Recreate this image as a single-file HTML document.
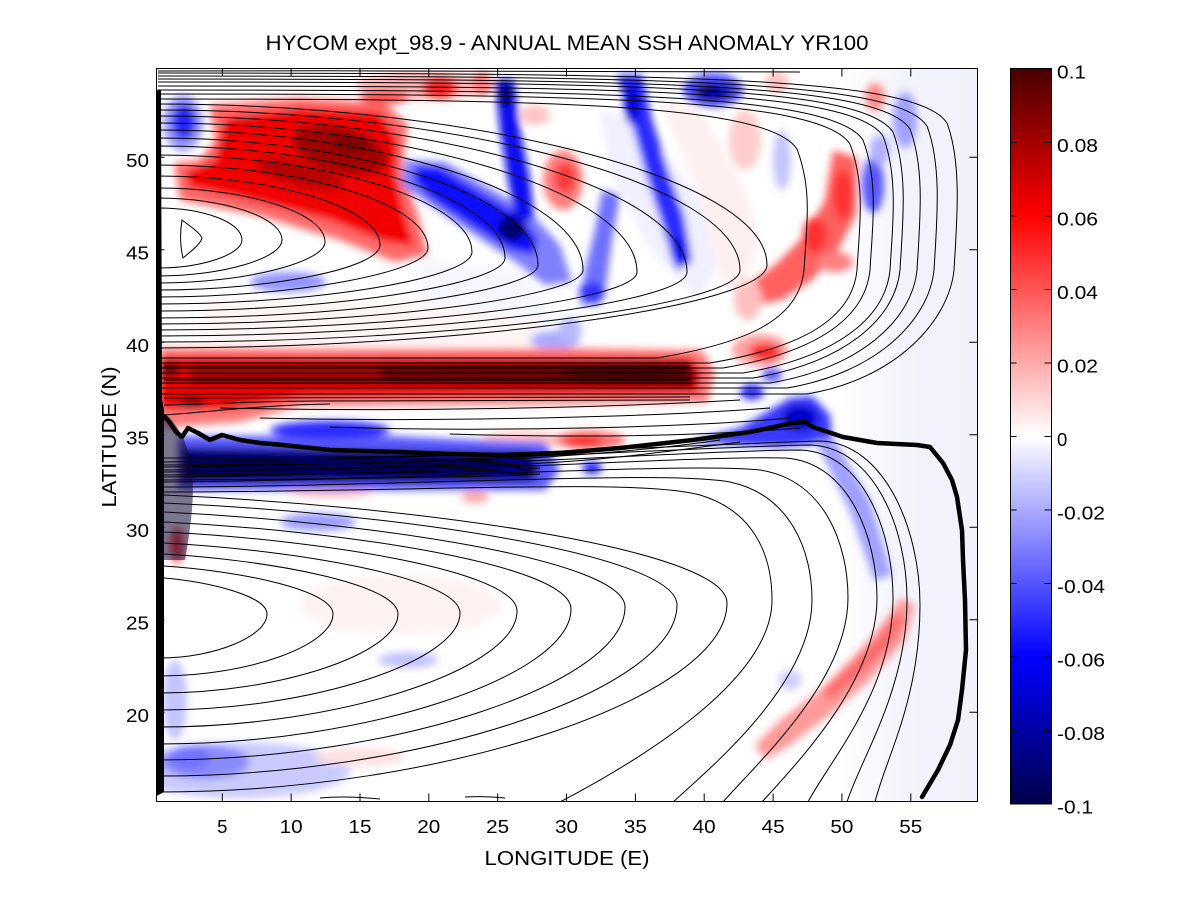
<!DOCTYPE html>
<html><head><meta charset="utf-8"><style>
html,body{margin:0;padding:0;background:#fff;}
svg{display:block;}
text{font-family:"Liberation Sans",Arial,sans-serif;fill:#000;}
</style></head><body>
<svg width="1200" height="901" viewBox="0 0 1200 901" xmlns="http://www.w3.org/2000/svg">
<defs>
<clipPath id="cp"><rect x="156.5" y="68.5" width="821" height="733"/></clipPath>
<filter id="bl" x="-10%" y="-10%" width="120%" height="120%"><feGaussianBlur stdDeviation="4"/></filter>
<linearGradient id="cb" x1="0" y1="0" x2="0" y2="1">
<stop offset="0" stop-color="#480000"/><stop offset="0.1" stop-color="#a40000"/><stop offset="0.2" stop-color="#ff0000"/><stop offset="0.5" stop-color="#ffffff"/><stop offset="0.8" stop-color="#0000ff"/><stop offset="0.9" stop-color="#0000a4"/><stop offset="1" stop-color="#000048"/>
</linearGradient>
<linearGradient id="lav" x1="0" y1="0" x2="1" y2="0">
<stop offset="0" stop-color="#f3f3fc" stop-opacity="0"/><stop offset="0.45" stop-color="#f3f3fc" stop-opacity="1"/><stop offset="1" stop-color="#f1f1fb" stop-opacity="1"/>
</linearGradient>
</defs>

<text x="567" y="50" font-size="21" text-anchor="middle" textLength="603" lengthAdjust="spacingAndGlyphs">HYCOM expt_98.9 - ANNUAL MEAN SSH ANOMALY YR100</text>

<g clip-path="url(#cp)">
<rect x="156" y="68" width="822" height="734" fill="#fff"/>
<rect x="840" y="68" width="140" height="734" fill="url(#lav)"/>
<g filter="url(#bl)">
<ellipse cx="400" cy="605" rx="100" ry="30" fill="#fff2f2"/>
<path d="M600,110 L640,120 L700,200 L720,260 L700,300 L650,250 L610,170 Z" fill="#f0f0ff"/>
<path d="M660,100 L700,110 L740,180 L760,240 L740,300 L720,280 L700,200 Z" fill="#fff0f0"/>
<path d="M420,260 L520,270 L560,320 L520,345 L420,330 Z" fill="#f6f6ff"/>
<path d="M200,300 L420,300 L540,320 L540,345 L300,348 L200,340 Z" fill="#fff5f5"/>
<path d="M210,105 L300,98 L385,103 L408,125 L402,170 L418,215 L428,255 L395,262 L340,240 L260,216 L180,200 L174,163 L200,160 L215,140 Z" fill="#ff6a6a"/>
<path d="M225,118 L300,108 L380,112 L398,140 L395,175 L405,215 L414,246 L385,242 L330,220 L250,200 L190,187 L185,172 L215,160 Z" fill="#f20000"/>
<ellipse cx="340" cy="150" rx="48" ry="22" transform="rotate(15 340 150)" fill="#a00000"/>
<ellipse cx="300" cy="174" rx="45" ry="12" transform="rotate(14 300 174)" fill="#b80000"/>
<ellipse cx="352" cy="143" rx="20" ry="10" fill="#800000"/>
<ellipse cx="420" cy="86" rx="65" ry="14" fill="#ffb4b4"/>
<ellipse cx="440" cy="88" rx="18" ry="11" fill="#ff2020"/>
<ellipse cx="482" cy="84" rx="10" ry="12" fill="#ff8080"/>
<ellipse cx="385" cy="97" rx="25" ry="7" fill="#ff5050"/>
<ellipse cx="563" cy="180" rx="20" ry="30" fill="#ff8080"/>
<ellipse cx="565" cy="178" rx="11" ry="16" fill="#ff3a3a"/>
<ellipse cx="535" cy="115" rx="15" ry="10" fill="#ffc4c4"/>
<ellipse cx="183" cy="123" rx="20" ry="28" fill="#9a9aff"/>
<ellipse cx="184" cy="122" rx="12" ry="18" fill="#2828ff"/>
<path d="M405,160 L445,162 L490,188 L530,212 L560,245 L572,282 L545,285 L515,262 L470,232 L430,205 L402,185 Z" fill="#8080ff"/>
<path d="M415,166 L440,167 L482,193 L520,215 L537,238 L535,255 L510,250 L470,225 L430,198 L414,182 Z" fill="#1010ff"/>
<ellipse cx="512" cy="228" rx="14" ry="13" fill="#00006a"/>
<path d="M495,80 L514,80 L520,130 L530,180 L534,220 L516,222 L508,180 L500,130 Z" fill="#0a0af0"/>
<ellipse cx="505" cy="95" rx="6" ry="14" fill="#0000a8"/>
<ellipse cx="288" cy="282" rx="38" ry="10" fill="#9494ff"/>
<ellipse cx="555" cy="340" rx="25" ry="9" fill="#a8a8ff"/>
<path d="M617,75 L642,75 L652,120 L668,170 L684,215 L692,262 L676,270 L662,225 L646,175 L632,125 Z" fill="#2a2aff"/>
<ellipse cx="632" cy="105" rx="8" ry="20" fill="#0000e0"/>
<ellipse cx="680" cy="250" rx="10" ry="14" fill="#1010f0"/>
<ellipse cx="713" cy="90" rx="30" ry="17" fill="#5050ff"/>
<ellipse cx="713" cy="92" rx="18" ry="9" fill="#00009a"/>
<path d="M602,190 L620,195 L612,240 L606,285 L600,305 L580,305 L585,270 L595,230 Z" fill="#7070ff"/>
<ellipse cx="592" cy="292" rx="13" ry="10" fill="#3030ff"/>
<ellipse cx="570" cy="330" rx="12" ry="12" fill="#b8b8ff"/>
<ellipse cx="873" cy="185" rx="11" ry="28" fill="#5656ff"/>
<ellipse cx="905" cy="120" rx="12" ry="28" fill="#a0a0ff"/>
<ellipse cx="880" cy="150" rx="10" ry="15" fill="#b0b0ff"/>
<ellipse cx="782" cy="160" rx="9" ry="30" fill="#c4c4ff"/>
<path d="M833,150 L857,158 L856,215 L838,250 L812,280 L782,300 L755,305 L748,285 L775,265 L805,235 L825,200 Z" fill="#ff6060"/>
<ellipse cx="843" cy="195" rx="10" ry="25" fill="#ff3030"/>
<ellipse cx="815" cy="235" rx="12" ry="18" fill="#ff3030"/>
<ellipse cx="835" cy="262" rx="18" ry="10" fill="#ff8080"/>
<ellipse cx="875" cy="97" rx="10" ry="14" fill="#ff8a8a"/>
<ellipse cx="777" cy="82" rx="12" ry="10" fill="#ffc0c0"/>
<ellipse cx="745" cy="140" rx="16" ry="30" fill="#ffcccc"/>
<ellipse cx="748" cy="300" rx="14" ry="20" fill="#ffc0c0"/>
<path d="M160,348 L560,348 L702,350 L715,372 L708,402 L560,404 L300,406 L240,422 L160,428 Z" fill="#ff7a7a"/>
<path d="M160,356 L690,357 L702,372 L698,394 L300,398 L230,410 L160,410 Z" fill="#f00000"/>
<path d="M190,363 L690,362 L697,375 L692,388 L190,384 Z" fill="#a80000"/>
<path d="M380,364 L690,362 L695,378 L690,386 L380,382 Z" fill="#700000"/>
<ellipse cx="625" cy="372" rx="65" ry="10" fill="#4a0000"/>
<ellipse cx="170" cy="370" rx="10" ry="8" fill="#800000"/>
<ellipse cx="192" cy="402" rx="12" ry="6" fill="#900000"/>
<ellipse cx="760" cy="350" rx="28" ry="16" fill="#ffa0a0"/>
<ellipse cx="765" cy="352" rx="16" ry="9" fill="#ff2020"/>
<ellipse cx="525" cy="440" rx="45" ry="8" fill="#ffc0c0"/>
<ellipse cx="590" cy="440" rx="35" ry="9" fill="#ff7070"/>
<ellipse cx="583" cy="441" rx="20" ry="5" fill="#ff1a1a"/>
<ellipse cx="330" cy="490" rx="45" ry="7" fill="#ffbcbc"/>
<ellipse cx="475" cy="497" rx="14" ry="6" fill="#ffa8a8"/>
<ellipse cx="177" cy="545" rx="7" ry="18" fill="#ff4040"/>
<path d="M178,436 L390,436 L470,440 L545,442 L560,470 L545,490 L178,490 Z" fill="#5a5aff"/>
<ellipse cx="330" cy="430" rx="60" ry="9" fill="#2a2aff"/>
<path d="M180,447 L530,452 L540,468 L532,482 L180,483 Z" fill="#00008c"/>
<path d="M185,452 L500,456 L505,475 L185,477 Z" fill="#000060"/>
<ellipse cx="592" cy="468" rx="10" ry="6" fill="#1a1aff"/>
<path d="M690,442 L740,428 L770,410 L790,398 L812,396 L830,415 L832,442 L780,447 Z" fill="#3838ff"/>
<ellipse cx="800" cy="418" rx="18" ry="13" fill="#0000c8"/>
<ellipse cx="752" cy="392" rx="12" ry="8" fill="#3030ff"/>
<ellipse cx="772" cy="375" rx="10" ry="7" fill="#5a5aff"/>
<path d="M815,440 L835,440 L870,500 L892,575 L874,580 L850,512 Z" fill="#a0a0ff"/>
<ellipse cx="318" cy="522" rx="38" ry="9" fill="#9e9eff"/>
<ellipse cx="240" cy="770" rx="110" ry="28" fill="#cacaff"/>
<ellipse cx="175" cy="700" rx="12" ry="40" fill="#c4c4ff"/>
<ellipse cx="205" cy="762" rx="45" ry="17" fill="#8a8aff"/>
<ellipse cx="190" cy="758" rx="20" ry="12" fill="#7272ff"/>
<ellipse cx="408" cy="660" rx="30" ry="8" fill="#c2c2ff"/>
<ellipse cx="360" cy="757" rx="45" ry="9" fill="#ffe0e0"/>
<path d="M900,598 L915,605 L905,640 L870,680 L830,715 L790,745 L765,760 L755,745 L780,720 L820,690 L860,650 L890,615 Z" fill="#ff9a9a"/>
<path d="M895,612 L905,618 L890,645 L860,675 L830,700 L822,692 L850,665 L880,635 Z" fill="#ff6a6a"/>
<ellipse cx="790" cy="680" rx="12" ry="10" fill="#d0d0ff"/>
</g>

<g fill="none" stroke="#000" stroke-width="1">
<path d="M182,220 C190,226 200,233 202,238 C200,245 190,252 183,258 C180,245 180,232 182,220 Z"/>
<path d="M158,208 C203,208 242,222 242,240 C242,254 203,268 158,268"/>
<path d="M158,198 C223,198 282,217 282,240 C282,258 223,276 158,276"/>
<path d="M158,188 C245,188 325,212 325,242 C325,262 245,283 158,283"/>
<path d="M158,176 C272,176 380,207 380,245 C380,268 272,290 158,290"/>
<path d="M158,165 C296,165 428,202 428,248 C428,272 296,297 158,297"/>
<path d="M158,155 C318,155 472,199 472,252 C472,278 318,304 158,304"/>
<path d="M158,146 C335,146 505,196 505,258 C505,284 335,311 158,311"/>
<path d="M158,138 C351,138 538,195 538,265 C538,291 351,318 158,318"/>
<path d="M158,130 C374,130 583,193 583,270 C583,297 374,324 158,324"/>
<path d="M158,123 C400,123 637,190 637,272 C637,301 400,330 158,330"/>
<path d="M158,116 C425,116 687,186 687,272 C687,304 425,336 158,336"/>
<path d="M158,110 C452,110 740,182 740,270 C740,306 452,342 158,342"/>
<path d="M158,104 C465,104 767,176 767,265 C767,306 465,348 158,348"/>
<path d="M158,99 C557,99 767,104 797,149 C812,189 807,220 804,270 C799,320 747,343 657,358 L158,358"/>
<path d="M158,94 C610,94 820,99 850,144 C865,184 860,220 857,270 C852,320 800,348 710,363 L158,363"/>
<path d="M158,90 C623,90 833,95 863,140 C878,180 873,220 870,270 C865,320 813,353 723,368 L158,368"/>
<path d="M158,86 C643,86 853,91 883,136 C898,176 893,220 890,270 C885,320 833,358 743,373 L158,373"/>
<path d="M158,82 C653,82 863,87 893,132 C908,172 903,220 900,270 C895,320 843,363 753,378 L158,378"/>
<path d="M158,79 C670,79 880,84 910,129 C925,169 920,220 917,270 C912,320 860,368 770,383 L158,383"/>
<path d="M158,76 C687,76 897,81 927,126 C942,166 937,220 934,270 C929,320 877,373 787,388 L158,388"/>
<path d="M158,73 C707,73 917,78 947,123 C962,163 957,220 954,270 C949,320 897,379 807,394 L158,394"/>
<path d="M158,71 C400,70.5 700,71 800,72"/>
<path d="M164,366 L690,366"/>
<path d="M164,380 L690,380"/>
<path d="M164,398 C250,398 300,397 690,397"/>
<path d="M164,405 C220,404 260,401 320,401 L690,400"/>
<path d="M164,415 C210,412 260,405 330,404"/>
<path d="M220,408 C400,412 600,408 740,400"/>
<path d="M260,418 C420,422 640,418 770,408"/>
<path d="M330,427 C480,432 680,428 790,418"/>
<path d="M450,434 C580,438 700,436 800,428"/>
<path d="M164,458 C300,458 450,456 560,452"/>
<path d="M164,465 C350,464 480,462 560,456 C620,452 680,446 720,440"/>
<path d="M164,470 C350,469 480,467 560,462 C620,458 680,450 740,442"/>
<path d="M164,475 C350,474 480,472 540,468"/>
<path d="M164,480 C350,479 480,477 540,474"/>
<path d="M164,492 C420,492 640,478 700,495 C750,510 772,550 772,600 C772,680 640,760 560,802"/>
<path d="M164,487 C420,486 660,470 730,482 C790,495 812,550 812,600 C812,680 720,760 673,802"/>
<path d="M164,482 C420,480 680,462 760,470 C825,480 848,545 848,598 C848,680 760,760 723,802"/>
<path d="M164,477 C420,475 700,455 785,458 C850,462 877,540 877,598 C877,680 800,760 762,802"/>
<path d="M164,472 C420,470 710,450 800,450 C865,452 893,535 893,598 C893,690 830,760 808,802"/>
<path d="M164,467 C420,465 720,446 810,445 C875,447 907,530 907,600 C907,690 860,760 847,802"/>
<path d="M164,462 C420,460 730,443 820,441 C885,443 920,530 920,605 C920,700 885,760 875,802"/>
<path d="M164,578 C210,582 267,596 267,614 C267,636 215,658 160,658"/>
<path d="M164,566 C240,571 333,590 333,614 C333,645 249,676 160,676"/>
<path d="M164,554 C269,560 398,584 398,614 C398,653 281,693 160,693"/>
<path d="M164,543 C297,550 460,578 460,613 C460,661 312,710 160,710"/>
<path d="M164,532 C323,540 517,571 517,611 C517,669 340,727 160,727"/>
<path d="M164,522 C347,531 571,565 571,609 C571,676 367,744 160,744"/>
<path d="M164,512 C371,522 625,560 625,607 C625,683 394,760 160,760"/>
<path d="M164,503 C395,513 677,554 677,605 C677,690 420,776 160,776"/>
<path d="M164,495 C417,506 727,549 727,603 C727,697 445,792 160,792"/>
<path d="M320,798 C340,796 360,797 380,799"/>
<path d="M465,797 C480,796 495,797 505,798"/>
</g>
<path d="M156.5,90 L161,90 L162,400 L164,410 L164,792 L156.5,796 Z" fill="#000"/>
<path d="M162,412 C175,420 188,440 192,470 C195,500 190,530 185,560 L162,560 Z" fill="#100830" opacity="0.55"/>
<path d="M160,413 L168,420 L176,432 L182,437 L188,428 L198,433 L210,440 L222,435 L240,440 L260,443 L283,445 L330,450 L400,452 L450,454 L500,455 L560,453 L620,448 L693,440 L750,432 L793,423 L805,422 L813,427 L843,437 L877,443 L917,445 L930,447 L943,463 L952,480 L957,497 L962,530 L963,560 L965,600 L966,650 L964,670 L962,690 L958,720 L950,745 L938,770 L922,797" fill="none" stroke="#000" stroke-width="4.5" stroke-linejoin="round" stroke-linecap="round"/>
</g>

<rect x="156.5" y="68.5" width="821" height="733" fill="none" stroke="#000" stroke-width="1"/>
<g stroke="#000" stroke-width="1">
<path d="M222.3,801.5 v-8 M291.1,801.5 v-8 M360,801.5 v-8 M428.8,801.5 v-8 M497.7,801.5 v-8 M566.5,801.5 v-8 M635.4,801.5 v-8 M704.2,801.5 v-8 M773.1,801.5 v-8 M841.9,801.5 v-8 M910.8,801.5 v-8"/>
<path d="M222.3,68.5 v8 M291.1,68.5 v8 M360,68.5 v8 M428.8,68.5 v8 M497.7,68.5 v8 M566.5,68.5 v8 M635.4,68.5 v8 M704.2,68.5 v8 M773.1,68.5 v8 M841.9,68.5 v8 M910.8,68.5 v8"/>
<path d="M156.5,157.3 h8 M156.5,249.8 h8 M156.5,342.3 h8 M156.5,434.8 h8 M156.5,527.3 h8 M156.5,619.8 h8 M156.5,712.3 h8"/>
<path d="M977.5,157.3 h-8 M977.5,249.8 h-8 M977.5,342.3 h-8 M977.5,434.8 h-8 M977.5,527.3 h-8 M977.5,619.8 h-8 M977.5,712.3 h-8"/>
</g>

<g font-size="18.5">
<text x="222.3" y="833" text-anchor="middle">5</text>
<text x="291.1" y="833" text-anchor="middle" textLength="23" lengthAdjust="spacingAndGlyphs">10</text>
<text x="360" y="833" text-anchor="middle" textLength="23" lengthAdjust="spacingAndGlyphs">15</text>
<text x="428.8" y="833" text-anchor="middle" textLength="23" lengthAdjust="spacingAndGlyphs">20</text>
<text x="497.7" y="833" text-anchor="middle" textLength="23" lengthAdjust="spacingAndGlyphs">25</text>
<text x="566.5" y="833" text-anchor="middle" textLength="23" lengthAdjust="spacingAndGlyphs">30</text>
<text x="635.4" y="833" text-anchor="middle" textLength="23" lengthAdjust="spacingAndGlyphs">35</text>
<text x="704.2" y="833" text-anchor="middle" textLength="23" lengthAdjust="spacingAndGlyphs">40</text>
<text x="773.1" y="833" text-anchor="middle" textLength="23" lengthAdjust="spacingAndGlyphs">45</text>
<text x="841.9" y="833" text-anchor="middle" textLength="23" lengthAdjust="spacingAndGlyphs">50</text>
<text x="910.8" y="833" text-anchor="middle" textLength="23" lengthAdjust="spacingAndGlyphs">55</text>
<text x="149" y="167" text-anchor="end" textLength="23" lengthAdjust="spacingAndGlyphs">50</text>
<text x="149" y="259.5" text-anchor="end" textLength="23" lengthAdjust="spacingAndGlyphs">45</text>
<text x="149" y="352" text-anchor="end" textLength="23" lengthAdjust="spacingAndGlyphs">40</text>
<text x="149" y="444.5" text-anchor="end" textLength="23" lengthAdjust="spacingAndGlyphs">35</text>
<text x="149" y="537" text-anchor="end" textLength="23" lengthAdjust="spacingAndGlyphs">30</text>
<text x="149" y="629.5" text-anchor="end" textLength="23" lengthAdjust="spacingAndGlyphs">25</text>
<text x="149" y="722" text-anchor="end" textLength="23" lengthAdjust="spacingAndGlyphs">20</text>
</g>

<text x="567" y="865" font-size="20" text-anchor="middle" textLength="165" lengthAdjust="spacingAndGlyphs">LONGITUDE (E)</text>
<text transform="translate(116,437) rotate(-90)" font-size="20" text-anchor="middle" textLength="141" lengthAdjust="spacingAndGlyphs">LATITUDE (N)</text>

<rect x="1010.5" y="68.5" width="41" height="735.5" fill="url(#cb)" stroke="#000" stroke-width="1"/>
<g stroke="#000" stroke-width="1">
<path d="M1010.5,142.5 h6 M1010.5,216 h6 M1010.5,289.5 h6 M1010.5,363 h6 M1010.5,436.5 h6 M1010.5,510 h6 M1010.5,583.5 h6 M1010.5,657 h6 M1010.5,730.5 h6"/>
<path d="M1051.5,142.5 h-7 M1051.5,216 h-7 M1051.5,289.5 h-7 M1051.5,363 h-7 M1051.5,436.5 h-7 M1051.5,510 h-7 M1051.5,583.5 h-7 M1051.5,657 h-7 M1051.5,730.5 h-7"/>
</g>
<g font-size="18.5">
<text x="1057" y="78.5" textLength="29" lengthAdjust="spacingAndGlyphs">0.1</text>
<text x="1057" y="152" textLength="41" lengthAdjust="spacingAndGlyphs">0.08</text>
<text x="1057" y="225.5" textLength="41" lengthAdjust="spacingAndGlyphs">0.06</text>
<text x="1057" y="299" textLength="41" lengthAdjust="spacingAndGlyphs">0.04</text>
<text x="1057" y="372.5" textLength="41" lengthAdjust="spacingAndGlyphs">0.02</text>
<text x="1057" y="446">0</text>
<text x="1057" y="519.5" textLength="48" lengthAdjust="spacingAndGlyphs">-0.02</text>
<text x="1057" y="593" textLength="48" lengthAdjust="spacingAndGlyphs">-0.04</text>
<text x="1057" y="666.5" textLength="48" lengthAdjust="spacingAndGlyphs">-0.06</text>
<text x="1057" y="740" textLength="48" lengthAdjust="spacingAndGlyphs">-0.08</text>
<text x="1057" y="813.5" textLength="36" lengthAdjust="spacingAndGlyphs">-0.1</text>
</g>
</svg>
</body></html>
